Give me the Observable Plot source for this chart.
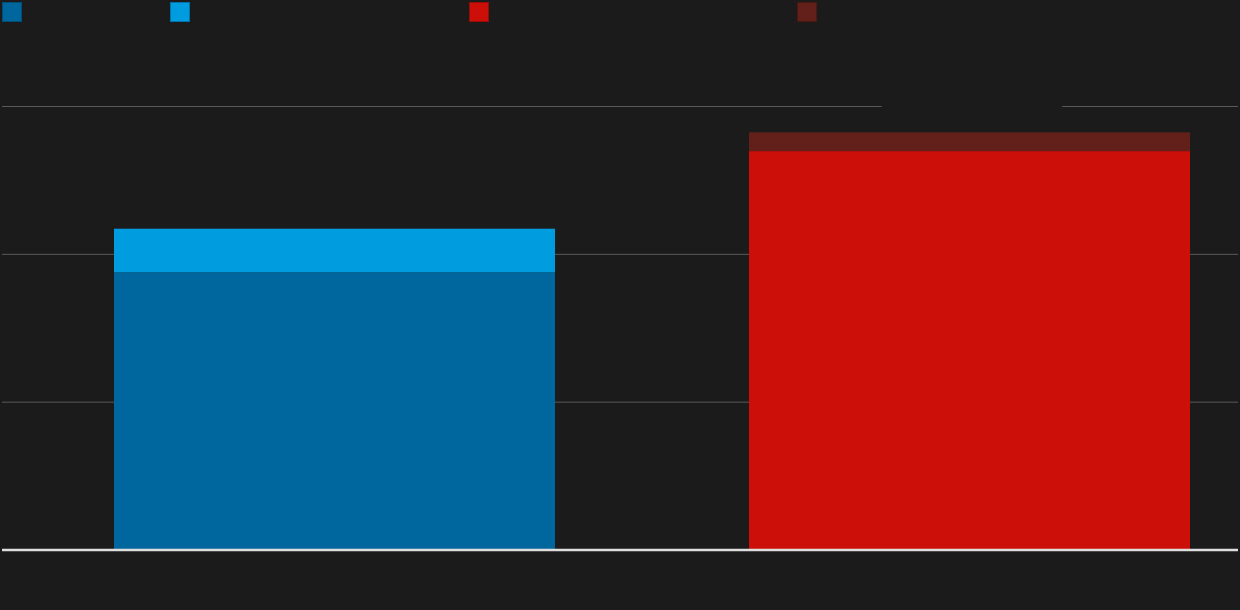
<!DOCTYPE html>
<html>
<head>
<meta charset="utf-8">
<script src="https://cdn.jsdelivr.net/npm/d3@7"></script>
<script src="https://cdn.jsdelivr.net/npm/@observablehq/plot@0.6"></script>
<style>
  html, body { margin: 0; padding: 0; background: #1b1b1b; width: 1240px; height: 610px; overflow: hidden; font-family: "Noto Sans", sans-serif; }
  #legend { position: relative; height: 24px; }
  .sw { position: absolute; top: 2px; width: 20px; height: 20px; box-sizing: border-box; border: 1px solid rgba(0,0,0,0.25); }
  .lab { position: absolute; top: 3px; font-size: 13px; color: #1b1b1b; white-space: nowrap; }
  svg { display: block; }
</style>
</head>
<body>
<div id="legend"></div>
<div id="chart"></div>
<script>
// ---- data ----
const categories = ["Group A", "Group B"];
const seriesNames = ["A base", "A extra", "B base", "B extra"];
const seriesColors = ["#00679e", "#009ce0", "#cc0f09", "#63201a"];
const barCategory = ["Group A", "Group A", "Group B", "Group B"];
const barValues = [18.75, 2.95, 26.95, 1.27];
const yTicks = [0, 10, 20, 30];
const totalLabel = ["Total 28.2 (million)"];

const rows = seriesNames.map((s, i) => ({ category: barCategory[i], series: s, value: barValues[i] }));

// ---- legend ----
const legend = document.getElementById("legend");
const legendLeft = [2, 170, 469, 797];
seriesNames.forEach((s, i) => {
  const sw = document.createElement("div");
  sw.className = "sw";
  sw.style.left = legendLeft[i] + "px";
  sw.style.background = seriesColors[i];
  legend.appendChild(sw);
  const lab = document.createElement("div");
  lab.className = "lab";
  lab.style.left = (legendLeft[i] + 26) + "px";
  lab.textContent = s;
  legend.appendChild(lab);
});

// ---- chart ----
const bg = "#1b1b1b";
const chart = Plot.plot({
  width: 1240,
  height: 586,
  marginTop: 82,
  marginBottom: 60.5,
  marginLeft: 2,
  marginRight: 2,
  style: { background: bg, color: "#aaa", fontFamily: "Noto Sans, sans-serif" },
  x: { domain: categories, paddingInner: 0.306, paddingOuter: 0.126, align: 0.7, axis: null },
  y: { domain: [0, 30], axis: null },
  color: { domain: seriesNames, range: seriesColors },
  marks: [
    Plot.ruleY(yTicks.filter(d => d > 0), { stroke: "#5a5a5a", strokeWidth: 1 }),
    Plot.text(totalLabel, { x: () => categories[1], y: () => yTicks[3], text: d => d, fill: bg, stroke: bg, strokeWidth: 12, fontSize: 20.3 }),
    Plot.barY(rows, Plot.stackY({ x: "category", y: "value", fill: "series", order: seriesNames, inset: 0 })),
    Plot.ruleY([0], { stroke: "#dedede", strokeWidth: 2.5 })
  ]
});
document.getElementById("chart").appendChild(chart);
</script>
</body>
</html>
